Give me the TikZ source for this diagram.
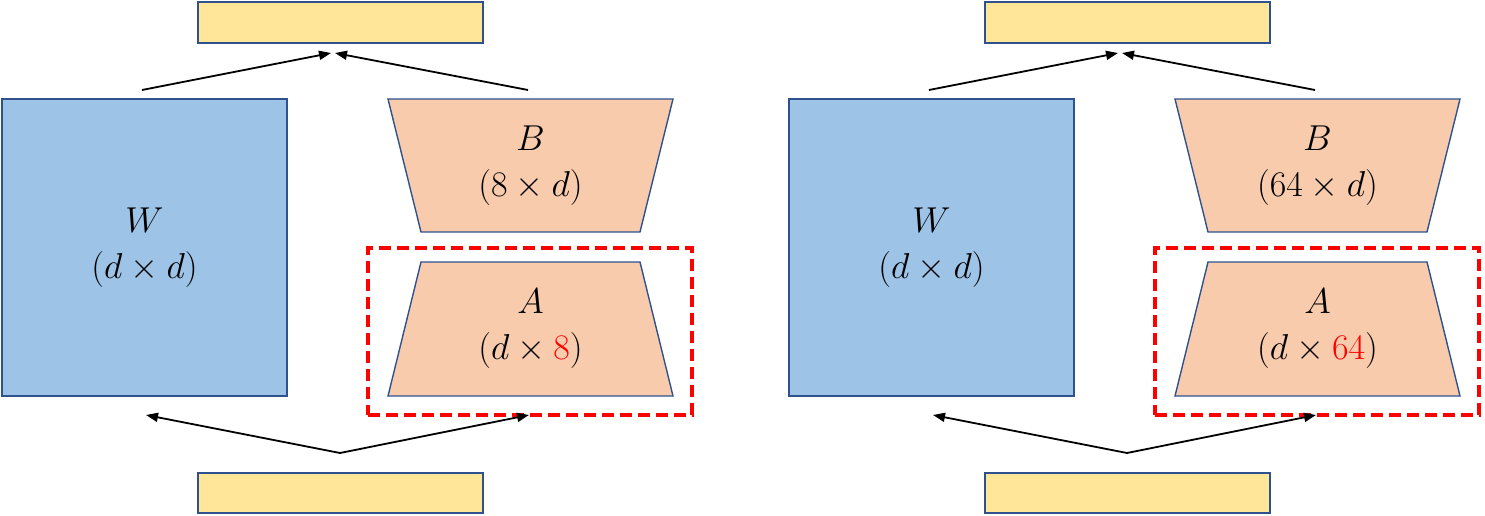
\documentclass[tikz,border=0pt]{standalone}
\usepackage{fix-cm}
\usetikzlibrary{arrows.meta}
\definecolor{wblue}{HTML}{9DC3E6}
\definecolor{lorange}{HTML}{F8CBAD}
\definecolor{lyellow}{HTML}{FFE699}
\definecolor{edgeblue}{HTML}{2F528F}
\tikzset{
  boxlbl/.style={align=center,font=\fontsize{36}{46}\selectfont,inner sep=0pt},
  matbox/.style={draw=edgeblue,line width=1.8pt,inner sep=0pt},
  trapshape/.style={draw=edgeblue,fill=lorange,line width=1.4pt,line join=miter},
  conn/.style={line width=1.8pt,-{Triangle[length=12pt,width=9pt]}},
  hilite/.style={draw=red,line width=3.5pt,dash pattern=on 12pt off 6pt,inner sep=0pt},
}
\begin{document}
\begin{tikzpicture}[x=1pt,y=-1pt]
\useasboundingbox (0,0) rectangle (1485,516);
\foreach \ox/\r/\p in {0/8/L,787/64/R}{
\begin{scope}[xshift=\ox pt]
  % input / output vectors
  \node[matbox,fill=lyellow,minimum width=285pt,minimum height=41pt] (\p out) at (340.5,22.5) {};
  \node[matbox,fill=lyellow,minimum width=285pt,minimum height=40pt] (\p in) at (340.5,493) {};
  % pretrained weight
  \node[matbox,fill=wblue,minimum width=285pt,minimum height=297pt,boxlbl] (\p W) at (144.5,247.5) {$W$\\$(d\times d)$};
  % B trapezoid
  \draw[trapshape] (388,99) -- (673,99) -- (640,232) -- (421,232) -- cycle;
  \node[boxlbl] (\p B) at (530.5,165.5) {$B$\\$(\r\times d)$};
  % A trapezoid
  \draw[trapshape] (421,262) -- (640,262) -- (673,396) -- (388,396) -- cycle;
  \node[boxlbl] (\p A) at (530.5,329) {$A$\\$(d\times \textcolor{red}{\r})$};
  % highlight
  \node[hilite,minimum width=324pt,minimum height=167pt] (\p hl) at (530,331.5) {};
  % connectors
  \coordinate (\p s1) at (142,90);
  \coordinate (\p s2) at (528,90);
  \coordinate (\p e1) at (331,53);
  \coordinate (\p e2) at (335,53);
  \coordinate (\p v) at (340,453);
  \coordinate (\p d1) at (146,415);
  \coordinate (\p d2) at (529,415);
  \draw[conn] (\p s1) -- (\p e1);
  \draw[conn] (\p s2) -- (\p e2);
  \draw[conn] (\p v) -- (\p d1);
  \draw[conn] (\p v) -- (\p d2);
\end{scope}
}
\end{tikzpicture}
\end{document}
